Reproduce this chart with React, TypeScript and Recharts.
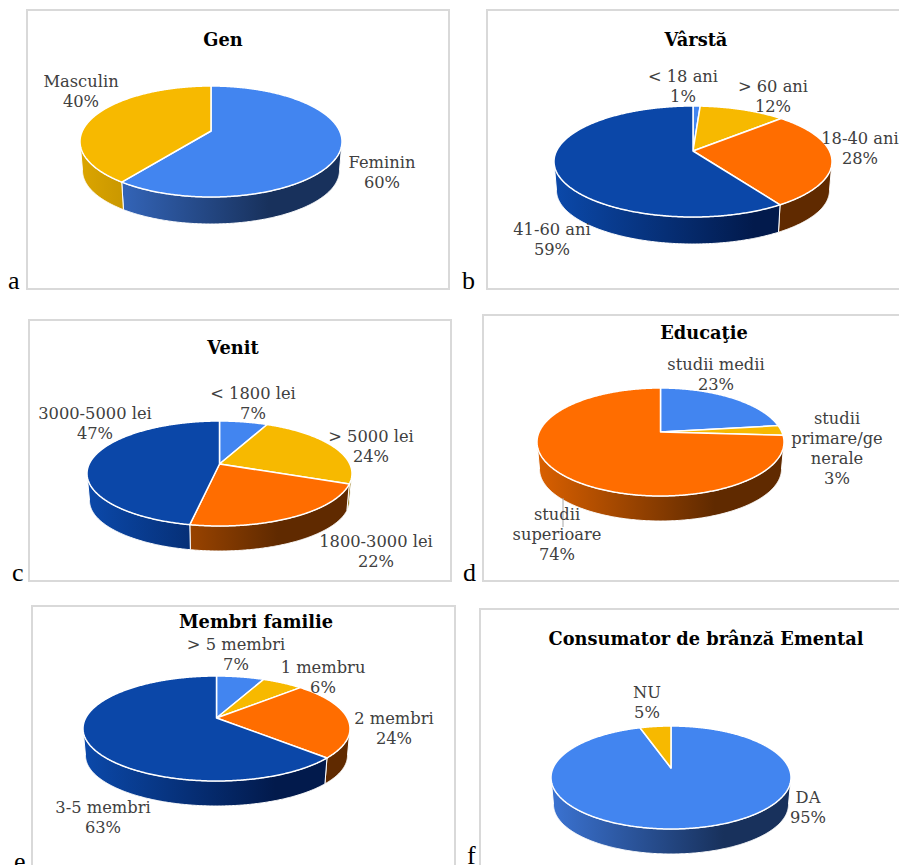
import React from "react";
import { PieChart, Pie } from "recharts";

// Category names ("\n" marks a line break inside a label) and shares in percent
const genNames = ["Feminin", "Masculin"];
const genValues = [60, 40];
const varstaNames = ["< 18 ani", "> 60 ani", "18-40 ani", "41-60 ani"];
const varstaValues = [1, 12, 28, 59];
const venitNames = ["< 1800 lei", "> 5000 lei", "1800-3000 lei", "3000-5000 lei"];
const venitValues = [7, 24, 22, 47];
const educatieNames = ["studii medii", "studii\nprimare/ge\nnerale", "studii\nsuperioare"];
const educatieValues = [23, 3, 74];
const familieNames = ["> 5 membri", "1 membru", "2 membri", "3-5 membri"];
const familieValues = [7, 6, 24, 63];
const consumNames = ["DA", "NU"];
const consumValues = [95, 5];

const BLUE = "#4285F0";
const YELLOW = "#F7B900";
const ORANGE = "#FF6D00";
const NAVY = "#0B47A8";

// Side-wall shading per top colour: left edge, then the dark tone it settles into
const wallTones: Record<string, [string, string]> = {
  [BLUE]: ["#3B73D2", "#18315C"],
  [YELLOW]: ["#DCA500", "#8A6A00"],
  [ORANGE]: ["#DA6000", "#602A00"],
  [NAVY]: ["#0B49AA", "#021A4C"],
};

const SERIF = "'DejaVu Serif', serif";
const LABEL_SIZE = 16.3;
const LABEL_LEADING = 20;
const TITLE_SIZE = 17.8;

type Tilt = { ry: number; lift: number; depth: number };
type Spot = [number, number];

// Maps a clockwise-from-top angle onto the tilted disc; level 1 is the lower rim.
function rimPoint(cx: number, cy: number, rx: number, tilt: Tilt, theta: number, level: 0 | 1) {
  const k = tilt.lift / tilt.ry;
  const rad = (theta * Math.PI) / 180;
  const u = Math.sin(rad);
  const t = Math.cos(rad);
  const den = 1 + k * t;
  const a = level ? rx - 2.5 : rx;
  const b = level ? tilt.ry - 2 : tilt.ry;
  const y0 = level ? cy + tilt.depth + 2 : cy;
  return [cx + (a * Math.sqrt(1 - k * k) * u) / den, y0 - (b * (t + k)) / den];
}

function arcPoints(cx: number, cy: number, rx: number, tilt: Tilt, from: number, to: number, level: 0 | 1) {
  const steps = Math.max(2, Math.ceil((to - from) * 2));
  const pts: number[][] = [];
  for (let i = 0; i <= steps; i++) {
    pts.push(rimPoint(cx, cy, rx, tilt, from + ((to - from) * i) / steps, level));
  }
  return pts;
}

const toPath = (pts: number[][]) =>
  "M" + pts.map((p) => `${p[0].toFixed(2)} ${p[1].toFixed(2)}`).join("L") + "Z";

function topShape(tilt: Tilt) {
  return (props: any) => {
    const { cx, cy, outerRadius, startAngle, endAngle, fill } = props;
    const pts = arcPoints(cx, cy, outerRadius, tilt, 90 - startAngle, 90 - endAngle, 0);
    return (
      <path
        d={toPath([[cx, cy - tilt.lift], ...pts])}
        fill={fill}
        stroke="#FFFFFF"
        strokeWidth={1.5}
        strokeLinejoin="round"
      />
    );
  };
}

function wallShape(tilt: Tilt, id: string) {
  return (props: any) => {
    const { cx, cy, outerRadius, startAngle, endAngle, fill, index } = props;
    const k = tilt.lift / tilt.ry;
    const frontFrom = (Math.acos(-k) * 180) / Math.PI;
    const from = Math.max(90 - startAngle, frontFrom);
    const to = Math.min(90 - endAngle, 360 - frontFrom);
    if (to <= from) return <g />;
    const upper = arcPoints(cx, cy, outerRadius, tilt, from, to, 0);
    const lower = arcPoints(cx, cy, outerRadius, tilt, from, to, 1).reverse();
    const tones = wallTones[fill];
    const gradId = `${id}-wall-${index}`;
    return (
      <g>
        <defs>
          <linearGradient
            id={gradId}
            gradientUnits="userSpaceOnUse"
            x1={cx - outerRadius}
            x2={cx + outerRadius}
            y1={0}
            y2={0}
          >
            <stop offset="0" stopColor={tones[0]} />
            <stop offset="0.72" stopColor={tones[1]} />
            <stop offset="1" stopColor={tones[1]} />
          </linearGradient>
        </defs>
        <path d={toPath([...upper, ...lower])} fill={`url(#${gradId})`} stroke="#FFFFFF" strokeWidth={1} />
      </g>
    );
  };
}

function labelText(names: string[], values: number[], spots: Spot[], leader?: number[]) {
  return (props: any) => {
    const i = props.index;
    const lines = [...names[i].split("\n"), `${values[i]}%`];
    const [x, y] = spots[i];
    return (
      <g>
        {leader && leader[0] === i ? (
          <line x1={leader[1]} x2={leader[1]} y1={leader[2]} y2={leader[3]} stroke="#A6A6A6" strokeWidth={1} />
        ) : null}
        <text x={x} y={y} textAnchor="middle" fontFamily={SERIF} fontSize={LABEL_SIZE} fill="#404040">
          {lines.map((line, n) => (
            <tspan key={n} x={x} y={y + n * LABEL_LEADING}>
              {line}
            </tspan>
          ))}
        </text>
      </g>
    );
  };
}

type Panel = {
  id: string;
  letter: string;
  letterAt: Spot;
  title: string;
  titleAt: Spot;
  frame: [number, number, number, number];
  names: string[];
  values: number[];
  colors: string[];
  cx: number;
  cy: number;
  rx: number;
  tilt: Tilt;
  labelAt: Spot[];
  leader?: number[];
};

const panels: Panel[] = [
  {
    id: "gen", letter: "a", letterAt: [8, 289], title: "Gen", titleAt: [223, 46],
    frame: [27, 10, 422, 279],
    names: genNames, values: genValues, colors: [BLUE, YELLOW],
    cx: 211, cy: 141.5, rx: 131, tilt: { ry: 55.5, lift: 10.5, depth: 27 },
    labelAt: [[382, 168], [81, 87]],
  },
  {
    id: "varsta", letter: "b", letterAt: [462, 289], title: "Vârstă", titleAt: [696, 46],
    frame: [487, 10, 430, 279],
    names: varstaNames, values: varstaValues, colors: [BLUE, YELLOW, ORANGE, NAVY],
    cx: 693, cy: 161.5, rx: 139, tilt: { ry: 55.5, lift: 10.5, depth: 27 },
    labelAt: [[683, 82], [773, 92], [860, 144], [552, 235]],
  },
  {
    id: "venit", letter: "c", letterAt: [12, 581], title: "Venit", titleAt: [233, 354],
    frame: [29, 320, 422, 261],
    names: venitNames, values: venitValues, colors: [BLUE, YELLOW, ORANGE, NAVY],
    cx: 219.5, cy: 473.5, rx: 132.5, tilt: { ry: 52.5, lift: 9.5, depth: 25 },
    labelAt: [[253, 399], [371, 442], [376, 547], [95, 419]],
  },
  {
    id: "educatie", letter: "d", letterAt: [463, 581], title: "Educaţie", titleAt: [704, 339],
    frame: [483, 315, 430, 266],
    names: educatieNames, values: educatieValues, colors: [BLUE, YELLOW, ORANGE],
    cx: 660.5, cy: 442, rx: 123.5, tilt: { ry: 54, lift: 10, depth: 25 },
    labelAt: [[716, 370], [837, 424], [557, 520]],
    leader: [2, 563, 498, 527],
  },
  {
    id: "familie", letter: "e", letterAt: [14, 870], title: "Membri familie", titleAt: [256, 628],
    frame: [32, 606, 423, 280],
    names: familieNames, values: familieValues, colors: [BLUE, YELLOW, ORANGE, NAVY],
    cx: 216.5, cy: 728.5, rx: 133.5, tilt: { ry: 52.5, lift: 10.5, depth: 25 },
    labelAt: [[236, 650], [323, 673], [394, 724], [103, 813]],
  },
  {
    id: "consum", letter: "f", letterAt: [467, 864], title: "Consumator de brânză Emental", titleAt: [706, 645],
    frame: [480, 609, 430, 280],
    names: consumNames, values: consumValues, colors: [BLUE, YELLOW],
    cx: 671, cy: 777.5, rx: 120, tilt: { ry: 51.5, lift: 9.5, depth: 25 },
    labelAt: [[808, 803], [647, 698]],
  },
];

const rowsOf = (p: Panel) =>
  p.names.map((name, i) => ({ name, value: p.values[i], fill: p.colors[i] }));

export default function App() {
  return (
    <div style={{ position: "absolute", left: 0, top: 0, width: 899, height: 865, overflow: "hidden", background: "#FFFFFF" }}>
      <PieChart width={899} height={865} margin={{ top: 0, right: 0, bottom: 0, left: 0 }}>
        {panels.map((p) => (
          <rect
            key={`frame-${p.id}`}
            x={p.frame[0]}
            y={p.frame[1]}
            width={p.frame[2]}
            height={p.frame[3]}
            fill="none"
            stroke="#D9D9D9"
            strokeWidth={2}
          />
        ))}
        {panels.map((p) => (
          <text
            key={`title-${p.id}`}
            x={p.titleAt[0]}
            y={p.titleAt[1]}
            textAnchor="middle"
            fontFamily={SERIF}
            fontWeight="bold"
            fontSize={TITLE_SIZE}
            fill="#000000"
          >
            {p.title}
          </text>
        ))}
        {panels.map((p) => (
          <text
            key={`letter-${p.id}`}
            x={p.letterAt[0]}
            y={p.letterAt[1]}
            fontFamily="'Liberation Serif', serif"
            fontSize={26}
            fill="#000000"
          >
            {p.letter}
          </text>
        ))}
        {panels.map((p) => (
          <Pie
            key={`wall-${p.id}`}
            data={rowsOf(p)}
            dataKey="value"
            nameKey="name"
            cx={p.cx}
            cy={p.cy}
            outerRadius={p.rx}
            startAngle={90}
            endAngle={-270}
            isAnimationActive={false}
            shape={wallShape(p.tilt, p.id)}
          />
        ))}
        {panels.map((p) => (
          <Pie
            key={`top-${p.id}`}
            data={rowsOf(p)}
            dataKey="value"
            nameKey="name"
            cx={p.cx}
            cy={p.cy}
            outerRadius={p.rx}
            startAngle={90}
            endAngle={-270}
            isAnimationActive={false}
            shape={topShape(p.tilt)}
            labelLine={false}
            label={labelText(p.names, p.values, p.labelAt, p.leader)}
          />
        ))}
      </PieChart>
    </div>
  );
}
